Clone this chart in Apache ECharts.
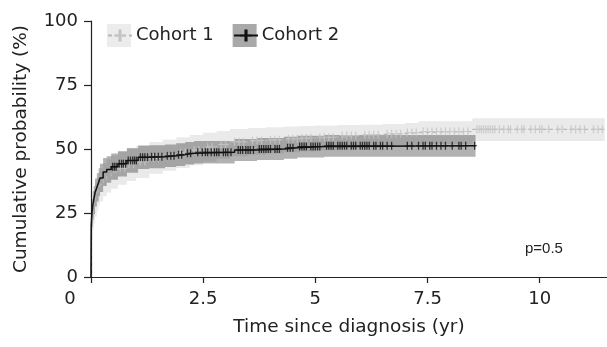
<!DOCTYPE html>
<html><head><meta charset="utf-8">
<script src="https://cdn.jsdelivr.net/npm/echarts@6/dist/echarts.min.js"></script>
<style>html,body{margin:0;padding:0;background:#fff}#c{width:607px;height:347px}</style>
</head><body><div id="c"></div>
<script>
// ---- data ----
const seriesNames = ['Cohort 1', 'Cohort 2'];
const xTicks = [0, 2.5, 5, 7.5, 10];
const yTicks = [0, 25, 50, 75, 100];
const xTitle = 'Time since diagnosis (yr)';
const yTitle = 'Cumulative probability (%)';
const pValueLabel = 'p=0.5';

const cohort1Time  = [0, 0.005, 0.02, 0.04, 0.06, 0.09, 0.13, 0.17, 0.2, 0.27, 0.35, 0.45, 0.6, 0.8, 1.0, 1.3, 1.6, 1.9, 2.2, 2.5, 2.8, 3.1, 3.5, 3.9, 4.3, 4.65, 5.0, 5.5, 6.0, 6.5, 7.0, 7.3, 8.5, 11.45];
const cohort1Value = [0, 15, 21, 25, 27.5, 30, 32.5, 34.5, 36, 38, 39.5, 41, 42.5, 44, 45, 46.5, 47.6, 48.6, 49.6, 50.8, 51.8, 52.8, 53.3, 53.6, 54, 54.3, 54.6, 55.3, 55.6, 56, 56.4, 56.8, 57.7, 57.7];
const cohort1Lower = [0, 9, 14.5, 18.5, 21, 23.5, 26, 28, 29.5, 31.5, 33, 34.5, 36, 37.5, 38.7, 40.3, 41.5, 42.6, 43.7, 45, 46.1, 47.2, 47.8, 48.2, 48.7, 49.1, 49.5, 50.3, 50.7, 51.1, 51.6, 52, 53.1, 53.1];
const cohort1Upper = [0, 21, 27.5, 31.5, 34, 36.5, 39, 41, 42.5, 44.5, 46, 47.5, 49, 50.5, 51.3, 52.7, 53.7, 54.6, 55.5, 56.3, 57, 57.8, 58.2, 58.5, 58.8, 59, 59.2, 59.4, 59.5, 59.8, 60.2, 60.8, 62, 62];

const cohort2Time  = [0, 0.005, 0.02, 0.04, 0.06, 0.09, 0.13, 0.17, 0.2, 0.27, 0.35, 0.45, 0.6, 0.8, 1.05, 1.3, 1.65, 1.9, 2.1, 2.3, 3.2, 3.7, 4.3, 4.6, 5.2, 8.57];
const cohort2Value = [0, 20, 25, 28, 30, 33, 35, 37, 38.7, 41, 42, 43.1, 44.2, 45.5, 46.8, 47, 47.4, 47.8, 48.3, 48.7, 49.6, 50, 50.5, 51, 51.3, 51.3];
const cohort2Lower = [0, 15, 19.5, 22.5, 24.5, 27.5, 29.5, 31.5, 33.2, 35.5, 36.8, 38, 39.3, 40.7, 42.2, 42.5, 43, 43.4, 43.9, 44.3, 45.3, 45.7, 46.2, 46.7, 47, 47];
const cohort2Upper = [0, 25, 30.5, 33.5, 35.5, 38.5, 40.5, 42.5, 44.2, 46.5, 47.2, 48.2, 49.1, 50.3, 51.4, 51.5, 51.8, 52.2, 52.7, 53.1, 53.9, 54.3, 54.8, 55.2, 55.5, 55.5];

// censoring marks [time, value]
const cohort1Censored = [
  [0.65,42.5],[0.75,42.5],[0.85,44],[0.95,44],[1.1,45],[1.2,45],[1.4,46.5],[1.5,46.5],
  [1.7,47.6],[1.8,47.6],[2.0,48.6],[2.1,48.6],[2.3,49.6],[2.4,49.6],[2.6,50.8],[2.7,50.8],
  [2.9,51.8],[3.0,51.8],[3.2,52.8],[3.3,52.8],[3.4,52.8],[3.6,53.3],[3.7,53.3],[3.8,53.3],
  [4.0,53.6],[4.1,53.6],[4.2,53.6],[4.4,54],[4.5,54],[4.6,54],[4.7,54.3],[4.8,54.3],[4.9,54.3],
  [5.1,54.6],[5.2,54.6],[5.3,54.6],[5.4,54.6],[5.6,55.3],[5.7,55.3],[5.8,55.3],[5.9,55.3],
  [6.1,55.6],[6.2,55.6],[6.3,55.6],[6.4,55.6],[6.6,56],[6.7,56],[6.8,56],[6.9,56],
  [7.05,56.4],[7.15,56.4],[7.25,56.4],[7.4,56.8],[7.5,56.8],[7.6,56.8],[7.7,56.8],[7.8,56.8],
  [7.9,56.8],[8.0,56.8],[8.1,56.8],[8.2,56.8],[8.3,56.8],[8.4,56.8],
  [8.6,57.7],[8.65,57.7],[8.7,57.7],[8.75,57.7],[8.8,57.7],[8.85,57.7],[8.9,57.7],[8.95,57.7],
  [9.0,57.7],[9.1,57.7],[9.2,57.7],[9.3,57.7],[9.35,57.7],[9.5,57.7],[9.6,57.7],[9.65,57.7],
  [9.8,57.7],[9.9,57.7],[10.0,57.7],[10.05,57.7],[10.2,57.7],[10.4,57.7],[10.5,57.7],
  [10.7,57.7],[10.8,57.7],[10.9,57.7],[11.0,57.7],[11.2,57.7],[11.3,57.7],[11.4,57.7]
];
const cohort2Censored = [
  [0.48,43.1],[0.52,43.1],[0.56,43.1],[0.63,44.2],[0.68,44.2],[0.72,44.2],[0.77,44.2],
  [0.83,45.5],[0.88,45.5],[0.93,45.5],[0.97,45.5],[1.01,45.5],[1.1,46.8],[1.15,46.8],[1.2,46.8],[1.26,46.8],
  [1.35,47],[1.42,47],[1.5,47],[1.58,47],[1.7,47.4],[1.78,47.4],[1.85,47.4],[1.95,47.8],[2.02,47.8],
  [2.15,48.3],[2.22,48.3],[2.38,48.7],[2.48,48.7],[2.55,48.7],[2.6,48.7],[2.68,48.7],[2.75,48.7],[2.8,48.7],[2.85,48.7],
  [2.95,48.7],[3.0,48.7],[3.05,48.7],[3.12,48.7],[3.28,49.6],[3.33,49.6],[3.38,49.6],[3.45,49.6],[3.5,49.6],[3.55,49.6],[3.62,49.6],
  [3.75,50],[3.8,50],[3.85,50],[3.9,50],[3.95,50],[4.0,50],[4.1,50],[4.15,50],[4.2,50],[4.38,50.5],[4.44,50.5],[4.5,50.5],
  [4.65,51],[4.7,51],[4.75,51],[4.8,51],[4.9,51],[4.95,51],[5.0,51],[5.05,51],[5.1,51],
  [5.25,51.3],[5.3,51.3],[5.35,51.3],[5.4,51.3],[5.5,51.3],[5.55,51.3],[5.6,51.3],[5.65,51.3],[5.7,51.3],
  [5.8,51.3],[5.85,51.3],[5.9,51.3],[6.0,51.3],[6.05,51.3],[6.1,51.3],[6.15,51.3],
  [6.2,51.3],[6.3,51.3],[6.35,51.3],[6.45,51.3],[6.5,51.3],[6.6,51.3],[6.7,51.3],[7.05,51.3],[7.15,51.3],[7.3,51.3],
  [7.4,51.3],[7.45,51.3],[7.55,51.3],[7.6,51.3],[7.7,51.3],[7.8,51.3],[7.9,51.3],[8.05,51.3],[8.2,51.3],[8.25,51.3],[8.35,51.3],[8.55,51.3]
];

// ---- build library inputs ----
const zip = (a, b) => a.map((v, i) => [v, b[i]]);
const FONT = 'DejaVu Sans';
const PLUS = 'path://M2,0H3.4V8H2Z M0,3.5H5.4V4.5H0Z';
const C1 = '#c4c4c4', C2 = '#111111';

// step-shaped confidence band drawn as one polygon through the axis scales
const bandSeries = (name, t, lo, hi, color) => ({
  name, type: 'custom', silent: true, z: 1, clip: true,
  data: t.map((v, i) => [v, lo[i], hi[i]]),
  encode: { x: 0, y: [1, 2] },
  renderItem: (params, api) => {
    if (params.dataIndex !== 0) return;
    const n = t.length, pts = [];
    for (let i = 0; i < n; i++) {
      const tn = i < n - 1 ? t[i + 1] : t[i];
      pts.push(api.coord([t[i], hi[i]]), api.coord([tn, hi[i]]));
    }
    for (let i = n - 1; i >= 0; i--) {
      const tn = i < n - 1 ? t[i + 1] : t[i];
      pts.push(api.coord([tn, lo[i]]), api.coord([t[i], lo[i]]));
    }
    return { type: 'polygon', shape: { points: pts }, style: { fill: color } };
  }
});

const chart = echarts.init(document.getElementById('c'), null, { renderer: 'canvas' });
chart.setOption({
  animation: false,
  textStyle: { fontFamily: FONT },
  grid: { left: 91, right: 0, top: 21, bottom: 70, containLabel: false },
  title: {
    text: pValueLabel, left: 520, top: 236,
    textStyle: { fontFamily: 'Liberation Sans', fontSize: 15, fontWeight: 'normal', color: '#222' }
  },
  legend: [
    {
      left: 102, top: 19, itemWidth: 24, itemHeight: 23, itemGap: 19, selectedMode: false,
      textStyle: { fontFamily: FONT, fontSize: 18, color: '#222' },
      data: [
        { name: seriesNames[0], icon: 'rect', itemStyle: { color: '#ececec' } },
        { name: seriesNames[1], icon: 'rect', itemStyle: { color: '#a9a9a9' } }
      ]
    },
    {
      left: 102, top: 23, itemWidth: 24, itemHeight: 15, selectedMode: false,
      formatter: () => '', data: [seriesNames[0]]
    },
    {
      left: 228, top: 23, itemWidth: 24, itemHeight: 15, selectedMode: false,
      formatter: () => '', data: [seriesNames[1]]
    }
  ],
  xAxis: {
    type: 'value', min: 0, max: 11.5, interval: 2.5,
    name: xTitle, nameLocation: 'middle', nameGap: 41,
    nameTextStyle: { fontFamily: FONT, fontSize: 18.5, color: '#222' },
    axisLine: { lineStyle: { color: '#222', width: 1.2 } },
    axisTick: { length: 6, lineStyle: { color: '#222', width: 1.2 } },
    splitLine: { show: false },
    axisLabel: {
      margin: 13, fontSize: 18, color: '#222', showMaxLabel: false,
      formatter: v => xTicks.indexOf(v) < 0 ? '' : (v === 0 ? '{z|0}' : String(v)),
      rich: { z: { fontSize: 18, color: '#222', padding: [0, 42, 0, 0] } }
    }
  },
  yAxis: {
    type: 'value', min: 0, max: 100, interval: 25,
    name: yTitle, nameLocation: 'middle', nameGap: 60,
    nameTextStyle: { fontFamily: FONT, fontSize: 18.5, color: '#222' },
    axisLine: { show: true, lineStyle: { color: '#222', width: 1.2 } },
    axisTick: { show: true, length: 7, lineStyle: { color: '#222', width: 1.2 } },
    splitLine: { show: false },
    axisLabel: { margin: 13, fontSize: 18, color: '#222',
      formatter: v => yTicks.indexOf(v) < 0 ? '' : String(v) }
  },
  series: [
    bandSeries('c1band', cohort1Time, cohort1Lower, cohort1Upper, 'rgba(185,185,185,0.30)'),
    bandSeries('c2band', cohort2Time, cohort2Lower, cohort2Upper, 'rgba(0,0,0,0.30)'),
    {
      name: seriesNames[0], type: 'line', step: 'end', data: zip(cohort1Time, cohort1Value),
      symbol: PLUS, showSymbol: false, color: C1, z: 3,
      lineStyle: { color: '#b8b8b8', width: 1.2, type: [4, 3] }, silent: true
    },
    {
      name: 'c1cens', type: 'scatter', data: cohort1Censored, symbol: PLUS, symbolSize: [5, 8],
      itemStyle: { color: C1 }, z: 3, silent: true
    },
    {
      name: seriesNames[1], type: 'line', step: 'end', data: zip(cohort2Time, cohort2Value),
      symbol: PLUS, showSymbol: false, color: C2, z: 4,
      lineStyle: { color: C2, width: 1.5 }, silent: true
    },
    {
      name: 'c2cens', type: 'scatter', data: cohort2Censored, symbol: PLUS, symbolSize: [5, 8],
      itemStyle: { color: C2 }, z: 4, silent: true
    }
  ]
});
</script>
</body></html>
